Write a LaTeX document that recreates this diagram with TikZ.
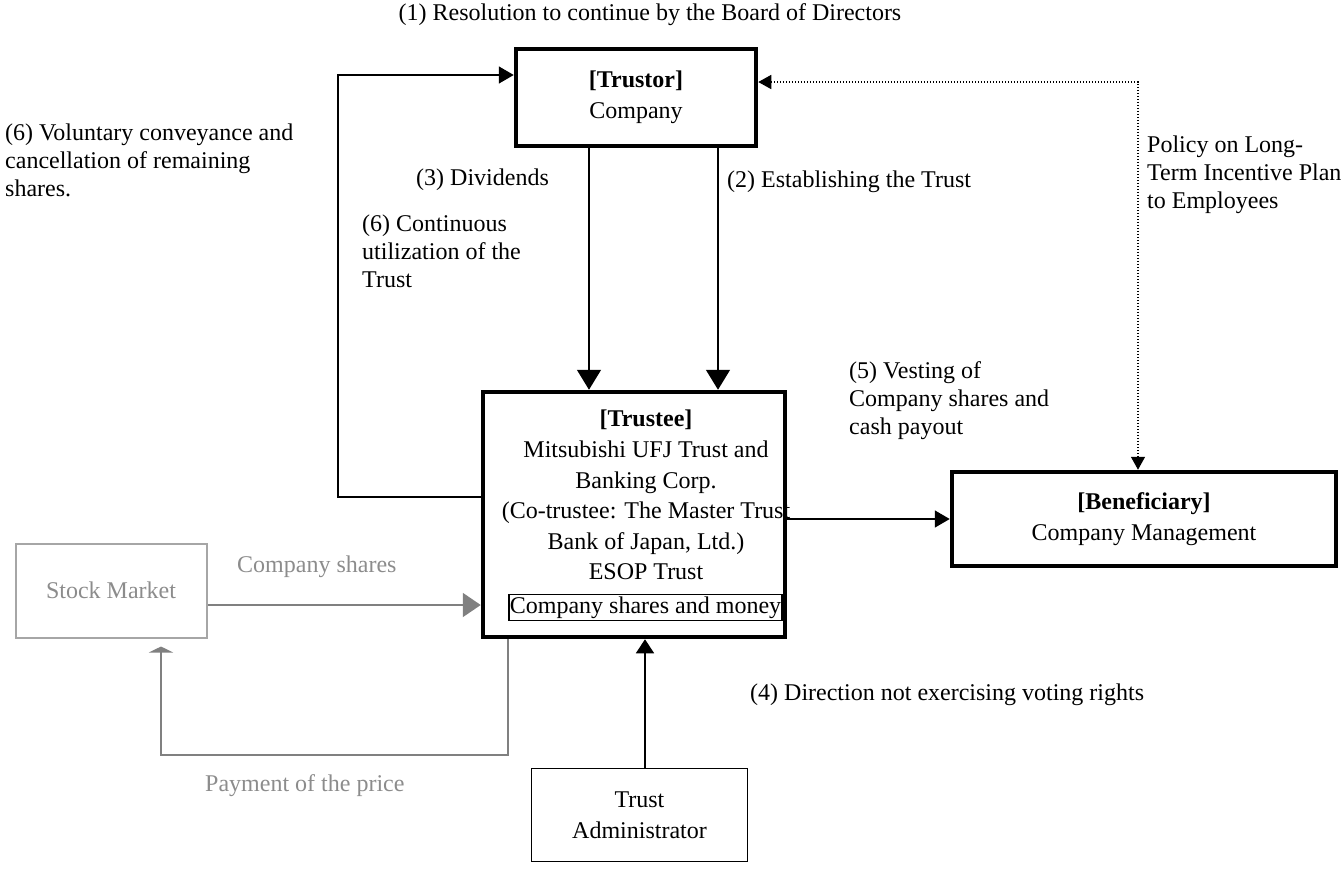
\documentclass[tikz,border=0pt]{standalone}
\usepackage{fontspec}
\setmainfont{Liberation Serif}
\usetikzlibrary{arrows.meta}
\definecolor{graytext}{HTML}{8C8C8C}
\definecolor{grayline}{HTML}{808080}
\definecolor{graybox}{HTML}{A6A6A6}
\begin{document}
\begin{tikzpicture}[x=1pt,y=-1pt,
  font=\fontsize{24}{30.6}\selectfont,
  thickbox/.style={draw, line width=4.5pt, inner sep=0pt, align=center},
  thinbox/.style={draw, line width=1.5pt, inner sep=0pt, align=center},
  lbl/.style={inner sep=0pt, align=left, anchor=north west, font=\fontsize{24}{28}\selectfont},
  conn/.style={line width=1.5pt},
  bigtip/.style={-{Triangle[length=20pt,width=24pt]}},
  midtip/.style={-{Triangle[length=15pt,width=17pt]}},
  graycon/.style={line width=2pt, draw=grayline}
]
\useasboundingbox (0,0) rectangle (1342,868);

% boxes
\node[thickbox, minimum width=240pt, minimum height=97pt] (trustor) at (636,97.5)
  {\textbf{[Trustor]}\\Company};
\node[thickbox, minimum width=302pt, minimum height=245pt] (trustee) at (634,514.5) {};
\node[inner sep=0pt, align=center, anchor=north] (trusteetext) at (646,410)
  {\textbf{[Trustee]}\\Mitsubishi UFJ Trust and\\Banking Corp.\\(Co-trustee: The Master Trust\\Bank of Japan, Ltd.)\\ESOP Trust};
\node[draw, line width=1.3pt, inner xsep=1pt, inner ysep=2pt] (money) at (645.5,607.5) {Company shares and money};
\node[thickbox, minimum width=384pt, minimum height=94pt] (ben) at (1144,519)
  {\textbf{[Beneficiary]}\\Company Management};
\node[thinbox, minimum width=216pt, minimum height=93pt] (admin) at (639.5,815)
  {Trust\\Administrator};
\node[draw=graybox, line width=2pt, inner sep=0pt, minimum width=191pt, minimum height=94pt,
  text=graytext] (stock) at (111,590.5) {Stock Market};

% labels
\node[inner sep=0pt] (title) at (650,15) {(1) Resolution to continue by the Board of Directors};
\node[lbl] (lvol) at (5,124) {(6) Voluntary conveyance and\\cancellation of remaining\\shares.};
\node[lbl] (ldiv) at (416,169) {(3) Dividends};
\node[lbl] (lest) at (727,171) {(2) Establishing the Trust};
\node[lbl] (lcont) at (362,215) {(6) Continuous\\utilization of the\\Trust};
\node[lbl] (lpol) at (1147,136) {Policy on Long-\\Term Incentive Plan\\to Employees};
\node[lbl] (lvest) at (849,361) {(5) Vesting of\\Company shares and\\cash payout};
\node[lbl] (ldir) at (750,684) {(4) Direction not exercising voting rights};
\node[lbl, text=graytext] (lshares) at (237,556) {Company shares};
\node[lbl, text=graytext] (lpay) at (205,774) {Payment of the price};

% connectors
\draw[conn, midtip] (trustee.west |- 0,497) -- (338,497) -- (338,75) -- (trustor.west |- 0,75);
\draw[conn, bigtip] (trustor.south -| 589,0) -- (trustee.north -| 589,0);
\draw[conn, bigtip] (trustor.south -| 718,0) -- (trustee.north -| 718,0);
\draw[line width=1.5pt, dash pattern=on 1.5pt off 1.5pt,
  {Triangle[length=13pt,width=14pt]}-{Triangle[length=13pt,width=14pt]}]
  (trustor.east |- 0,82) -- (1138,82) -- (ben.north -| 1138,0);
\draw[conn, midtip] (trustee.east |- 0,519) -- (ben.west |- 0,519);
\draw[conn, -{Triangle[length=14pt,width=18pt]}] (admin.north -| 645,0) -- (trustee.south -| 645,0);
\draw[graycon, -{Triangle[length=18pt,width=24pt]}, fill=grayline] (stock.east |- 0,605) -- (trustee.west |- 0,605);
\draw[graycon, -{Triangle[length=6pt,width=24pt]}, shorten >=8pt] (trustee.south -| 508,0) -- (508,755) -- (161,755) -- (stock.south -| 161,0);
\end{tikzpicture}
\end{document}
